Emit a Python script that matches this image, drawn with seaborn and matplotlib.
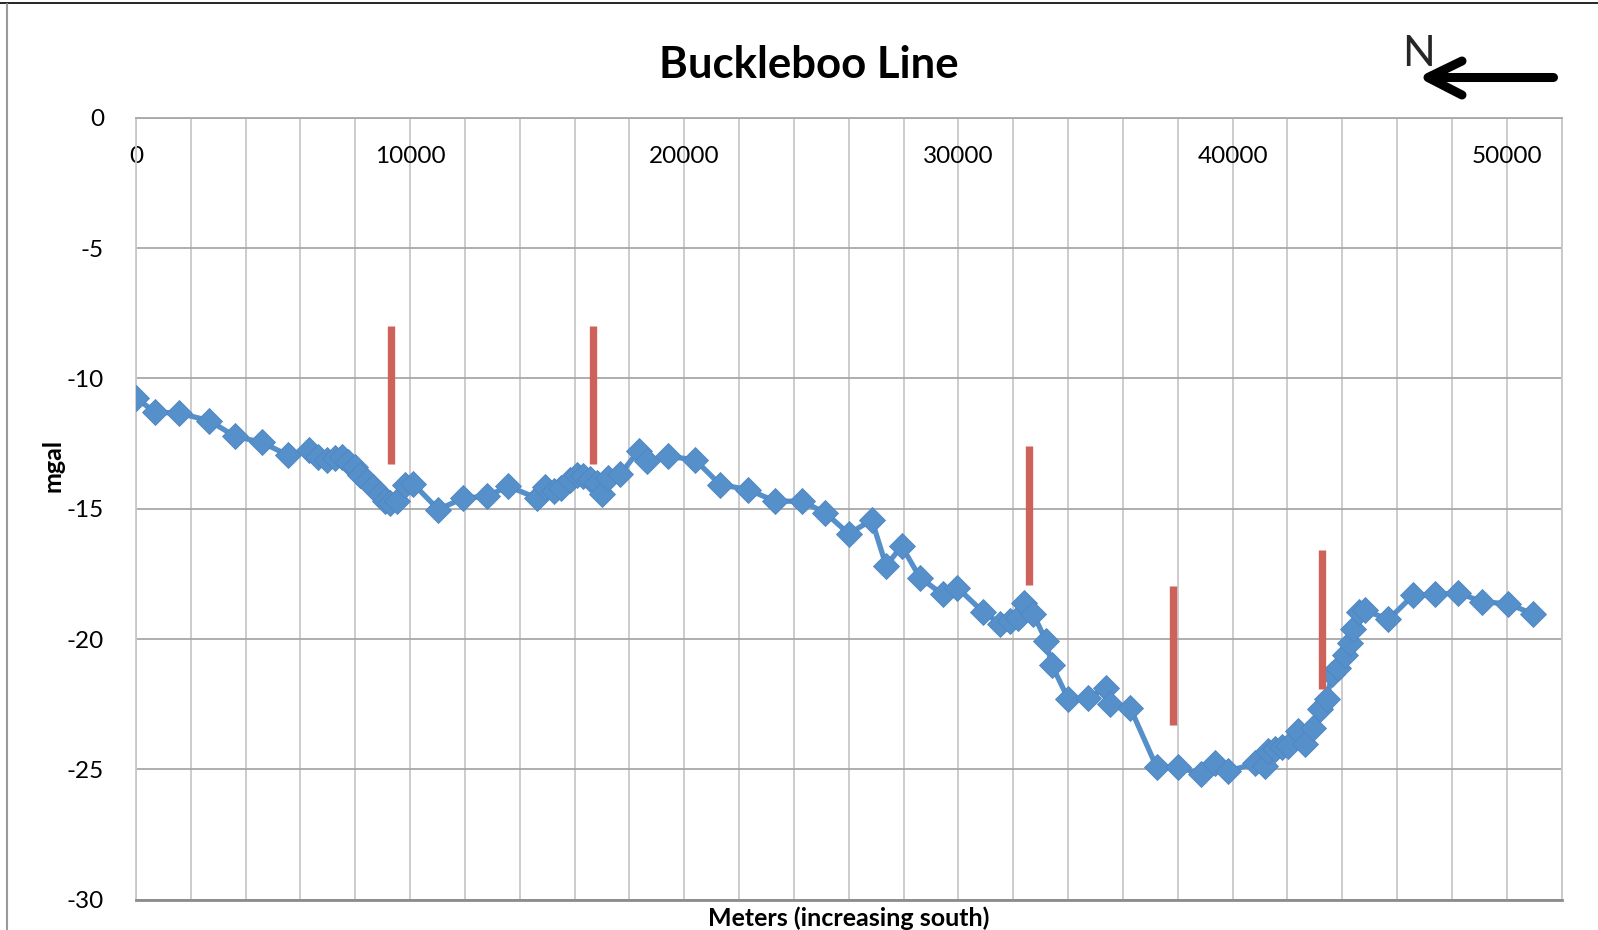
import matplotlib
matplotlib.use("Agg")
import matplotlib.pyplot as plt
import seaborn as sns
from matplotlib.lines import Line2D
from matplotlib.ticker import MultipleLocator

# Gravity survey along the Buckleboo line
dist_m = [0, 693, 1569, 2675, 3611, 4585, 5557, 6300, 6650, 6960, 7260, 7500,
          7750, 7990, 8170, 8420, 8660, 8900, 9080, 9270, 9510, 9810, 10120,
          11029, 11941, 12794, 13583, 14618, 14920, 15250, 15500, 15830, 16080,
          16320, 16560, 16800, 16990, 17230, 17660, 18330, 18630, 19419, 20393,
          21304, 22337, 23310, 24285, 25150, 26000, 26838, 27360, 27932, 28600,
          29428, 29961, 30887, 31519, 31884, 32187, 32394, 32734, 33197, 33405,
          34011, 34741, 35386, 35532, 36261, 37234, 38023, 38830, 39362, 39830,
          40821, 41186, 41308, 41551, 41795, 42037, 42402, 42645, 42948, 43192,
          43436, 43618, 43860, 44104, 44286, 44400, 44600, 44830, 45684, 46596,
          47388, 48238, 49091, 50062, 50975]
gravity_mgal = [-10.75, -11.29, -11.33, -11.62, -12.22, -12.45, -12.95, -12.75,
                -13.0, -13.12, -13.05, -13.0, -13.2, -13.4, -13.7, -13.95,
                -14.15, -14.45, -14.7, -14.78, -14.7, -14.1, -14.05, -15.03,
                -14.59, -14.52, -14.14, -14.59, -14.17, -14.33, -14.2, -13.88,
                -13.72, -13.75, -13.85, -14.0, -14.42, -13.82, -13.68, -12.78,
                -13.15, -12.99, -13.12, -14.07, -14.27, -14.71, -14.71, -15.16,
                -15.96, -15.43, -17.18, -16.44, -17.65, -18.29, -18.03, -18.95,
                -19.41, -19.31, -19.18, -18.61, -19.05, -20.08, -21.0, -22.31,
                -22.25, -21.87, -22.5, -22.63, -24.93, -24.9, -25.2, -24.77,
                -25.08, -24.77, -24.87, -24.29, -24.23, -24.16, -24.1, -23.55,
                -24.04, -23.43, -22.7, -22.31, -21.35, -21.13, -20.62, -20.14,
                -19.6, -18.95, -18.9, -19.25, -18.31, -18.29, -18.23, -18.57,
                -18.65, -19.05]

# red marker bars
bar_x = [9290, 16670, 32590, 37840, 43250]
bar_top = [-7.97, -7.97, -12.6, -17.98, -16.6]
bar_bottom = [-13.27, -13.27, -17.93, -23.3, -21.93]

x_labels = [0, 10000, 20000, 30000, 40000, 50000]

sns.set_theme(style="white")
plt.rcParams['font.family'] = ['Lato', 'DejaVu Sans']
plt.rcParams['axes.unicode_minus'] = False

W, H = 1598, 930
fig = plt.figure(figsize=(W / 100, H / 100), dpi=100)
ax = fig.add_axes([136 / W, 1 - 899.5 / H, 1425.6 / W, 781.5 / H])

sns.lineplot(x=dist_m, y=gravity_mgal, ax=ax, sort=False, color="#5690CB",
             linewidth=3.8, marker="D", markersize=13, markeredgewidth=0.6,
             markeredgecolor="#4f86c2", zorder=3)
ax.vlines(bar_x, bar_bottom, bar_top, color="#CF615B", linewidth=5.3, zorder=4)

ax.set_xlim(0, 52000)
ax.set_ylim(-30, 0)
ax.xaxis.set_minor_locator(MultipleLocator(2000))
ax.set_xticks(x_labels)
ax.set_xticklabels([str(v) for v in x_labels])
ax.yaxis.set_major_locator(MultipleLocator(5))
ax.grid(True, which="both", axis="x", color="#c8c8c8", linewidth=1.3)
ax.grid(True, which="major", axis="y", color="#a8a8a8", linewidth=1.3)

ax.tick_params(axis="x", which="both", bottom=False, top=False,
               labelbottom=False, labeltop=True, pad=-41, labelsize=17.5,
               colors="black")
ax.tick_params(axis="y", left=False, pad=17, labelsize=17.5, colors="black")

for side in ["left", "right"]:
    ax.spines[side].set_color("#c8c8c8")
    ax.spines[side].set_linewidth(1.3)
ax.spines["top"].set_color("#a8a8a8")
ax.spines["top"].set_linewidth(1.3)
ax.spines["bottom"].set_color("#8c8c8c")
ax.spines["bottom"].set_linewidth(2)

ax.set_xlabel("Meters (increasing south)", fontsize=18, fontweight="bold",
              color="black")
ax.xaxis.set_label_coords(0.5, -0.009)
ax.set_ylabel("mgal", fontsize=18, fontweight="bold", color="black")
ax.yaxis.set_label_coords(-0.05, 0.556)

fig.text(809 / W, 1 - 78 / H, "Buckleboo Line", ha="center", va="baseline",
         fontsize=31.5, fontweight="bold", color="black")

# north arrow
fig.text(1419 / W, 1 - 66 / H, "N", ha="center", va="baseline", fontsize=31)
arrow_kw = dict(color="black", linewidth=6.5, solid_capstyle="round",
                solid_joinstyle="round", transform=fig.transFigure)
fig.add_artist(Line2D([1553 / W, 1430 / W], [1 - 77 / H, 1 - 77 / H], **arrow_kw))
fig.add_artist(Line2D([1462 / W, 1428 / W, 1462 / W],
                      [1 - 61 / H, 1 - 77.5 / H, 1 - 95 / H], **arrow_kw))

# page border remnants
fig.add_artist(Line2D([0, 1], [1 - 3.5 / H, 1 - 3.5 / H], color="black",
                      linewidth=1.2, transform=fig.transFigure))
fig.add_artist(Line2D([7 / W, 7 / W], [0, 1 - 4 / H], color="#9a9a9a",
                      linewidth=1.5, transform=fig.transFigure))

fig.savefig("out.png", dpi=100)
